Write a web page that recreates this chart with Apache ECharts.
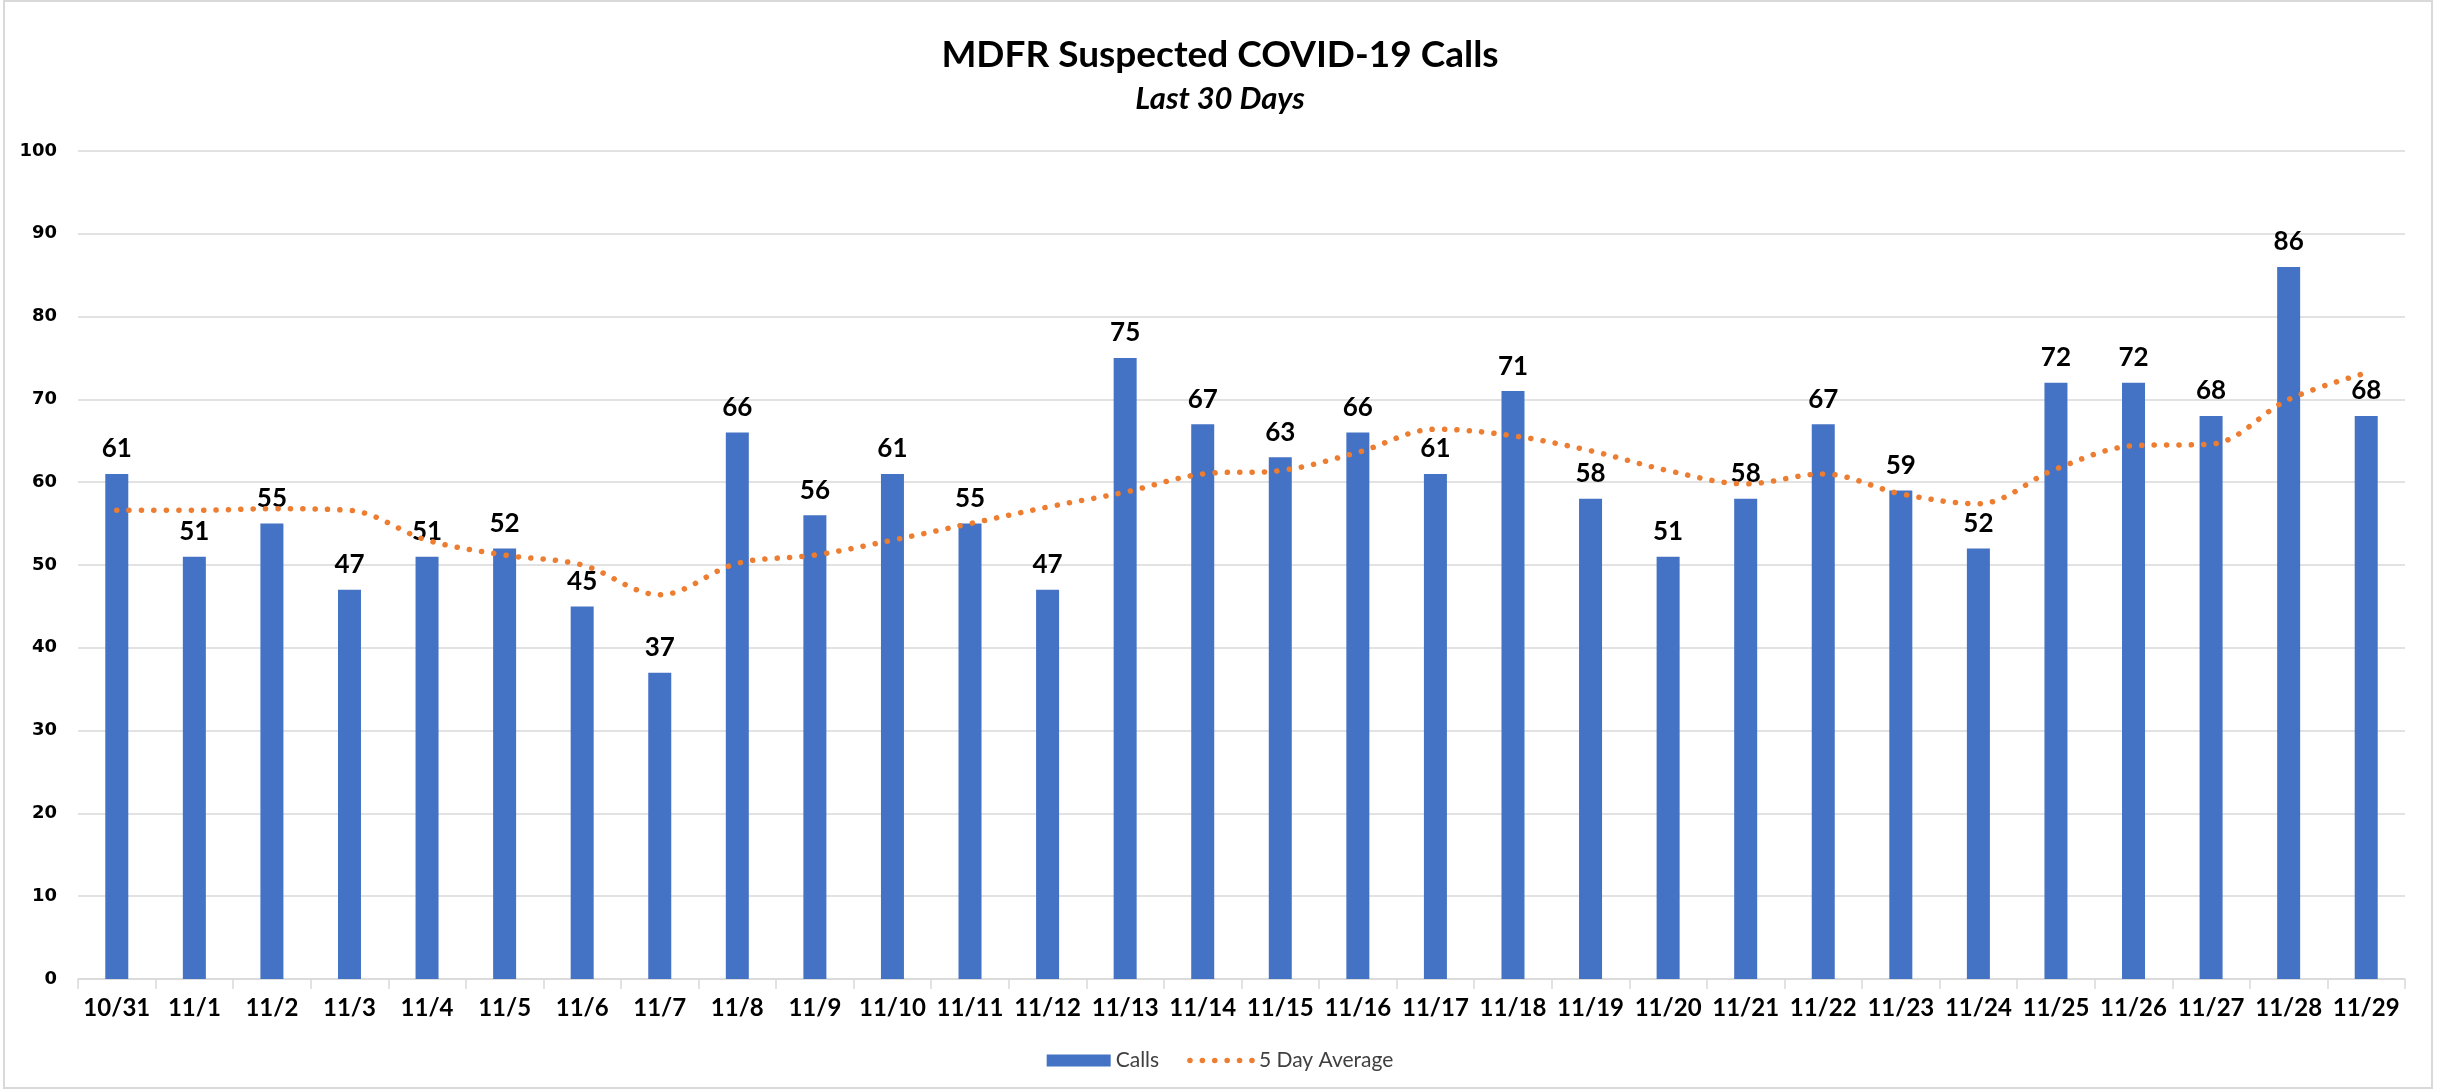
<!DOCTYPE html>
<html>
<head>
<meta charset="utf-8">
<script src="https://cdn.jsdelivr.net/npm/echarts@6/dist/echarts.min.js"></script>
<style>
html,body{margin:0;padding:0;background:#fff;}
#chart{width:2440px;height:1092px;}
</style>
</head>
<body>
<div id="chart"></div>
<script>
const categories = ['10/31','11/1','11/2','11/3','11/4','11/5','11/6','11/7','11/8','11/9','11/10','11/11','11/12','11/13','11/14','11/15','11/16','11/17','11/18','11/19','11/20','11/21','11/22','11/23','11/24','11/25','11/26','11/27','11/28','11/29'];
const calls = [61,51,55,47,51,52,45,37,66,56,61,55,47,75,67,63,66,61,71,58,51,58,67,59,52,72,72,68,86,68];
const fiveDayAverage = [56.6,56.6,56.8,56.6,53,51.2,50,46.4,50.2,51.2,53,55,57,58.8,61,61.4,63.6,66.4,65.6,63.8,61.4,59.8,61,58.6,57.4,61.6,64.4,64.6,70,73.2];
const yTicks = {min:0, max:100, interval:10};

const font = "Lato, 'Open Sans', sans-serif";
const dotLine = {color:'#ED7D31', width:5.5, type:[0.1,12.3], cap:'round'};
const chart = echarts.init(document.getElementById('chart'));
chart.setOption({
  backgroundColor:'#fff',
  animation:false,
  title:[
    {text:'MDFR Suspected COVID-19 Calls', left:'center', top:32,
     textStyle:{fontFamily:font, fontWeight:'bold', fontSize:37, color:'#000'}},
    {text:'Last 30 Days', left:'center', top:78,
     textStyle:{fontFamily:font, fontWeight:'bold', fontStyle:'italic', fontSize:31, color:'#000'}}
  ],
  graphic:[{type:'rect', shape:{x:4, y:1, width:2428, height:1087},
    style:{fill:'none', stroke:'#D9D9D9', lineWidth:2}, silent:true}],
  legend:{
    top:1045, left:'center', itemWidth:64, itemHeight:12, itemGap:28,
    textStyle:{fontFamily:font, fontSize:21, color:'#404040'},
    data:[{name:'Calls', icon:'rect'},
          {name:'5 Day Average', itemStyle:{opacity:0}, lineStyle:dotLine}]
  },
  grid:{left:78, right:35, top:151, bottom:113, containLabel:false},
  xAxis:{
    type:'category', data:categories, boundaryGap:true,
    axisLine:{lineStyle:{color:'#D9D9D9', width:1.5}},
    axisTick:{show:true, alignWithLabel:false, length:10, lineStyle:{color:'#D9D9D9', width:1.5}},
    axisLabel:{fontFamily:font, fontWeight:'bold', fontSize:24, color:'#000', margin:17, interval:0}
  },
  yAxis:{
    type:'value', min:yTicks.min, max:yTicks.max, interval:yTicks.interval,
    axisLine:{show:false}, axisTick:{show:false},
    splitLine:{lineStyle:{color:'#D9D9D9', width:1.5}},
    axisLabel:{fontFamily:"'DejaVu Sans', Verdana, sans-serif", fontWeight:'bold', fontSize:18, color:'#000', margin:21}
  },
  series:[
    {name:'Calls', type:'bar', data:calls, barWidth:23,
     itemStyle:{color:'#4472C4'},
     label:{show:true, position:'top', distance:12, fontFamily:font, fontWeight:'bold', fontSize:26, color:'#000'}},
    {name:'5 Day Average', type:'line', data:fiveDayAverage, smooth:0.35, symbol:'none', z:5,
     lineStyle:dotLine,
     itemStyle:{color:'#ED7D31'}}
  ]
});
</script>
</body>
</html>
